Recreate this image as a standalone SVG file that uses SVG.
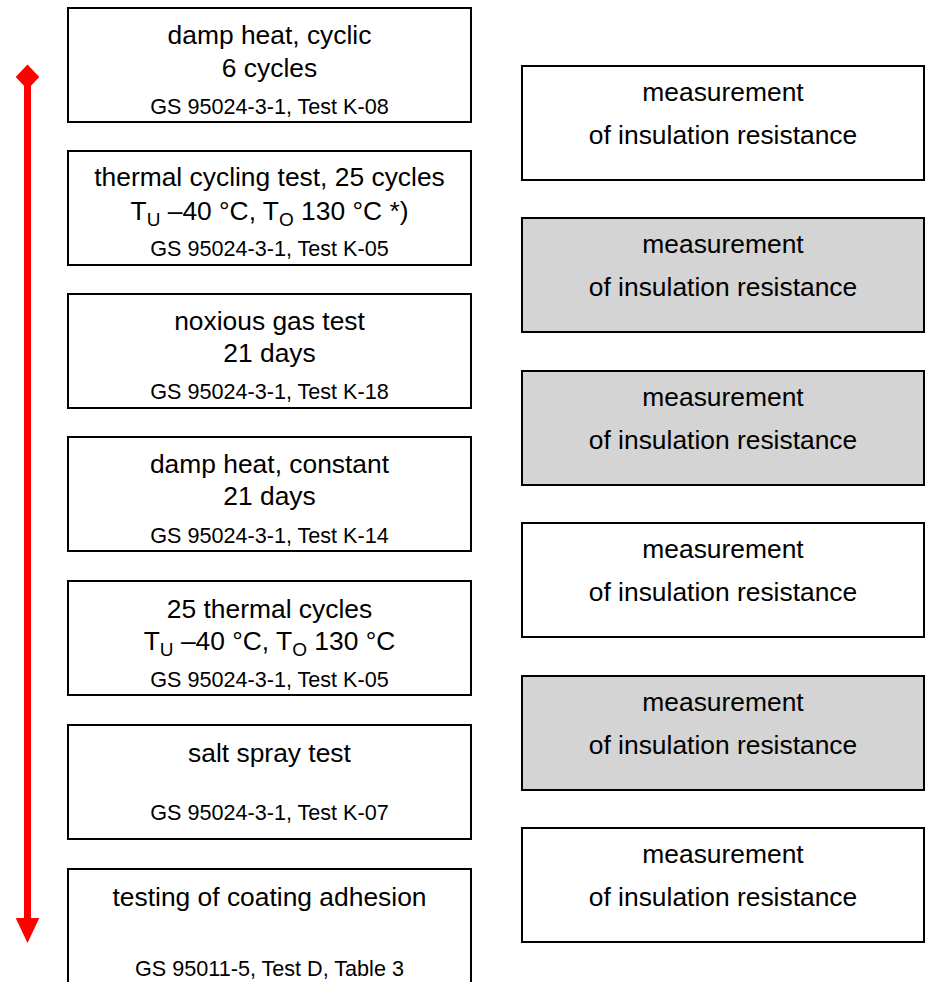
<svg xmlns="http://www.w3.org/2000/svg" width="926" height="982" viewBox="0 0 926 982">
  <style>
    .box { fill: #ffffff; stroke: #000000; stroke-width: 2; }
    .box.grey { fill: #d4d4d4; }
    text { font-family: "Liberation Sans", Arial, sans-serif; fill: #000000; text-anchor: middle; }
    .t { font-size: 26.4px; }
    .s { font-size: 21.6px; }
    .sub { font-size: 19px; }
    .flow { fill: none; stroke: #ff0000; stroke-width: 7; }
  </style>
  <defs>
    <marker id="diamond" markerUnits="userSpaceOnUse" viewBox="-13 -13 26 26" refX="0" refY="0" markerWidth="26" markerHeight="26" orient="auto" overflow="visible">
      <polygon points="-12.5,0 0,-11.8 12.5,0 0,11.8" fill="#ff0000"/>
    </marker>
    <marker id="head" markerUnits="userSpaceOnUse" viewBox="0 -13 26 26" refX="0" refY="0" markerWidth="26" markerHeight="26" orient="auto" overflow="visible">
      <polygon points="0,-11.8 25,0 0,11.8" fill="#ff0000"/>
    </marker>
  </defs>

  <!-- sequence arrow -->
  <g id="connectors">
    <path class="flow" d="M27.5 77 V918" marker-start="url(#diamond)" marker-end="url(#head)"/>
  </g>

  <!-- test steps -->
  <g id="step1">
    <rect class="box" x="68" y="8" width="403" height="114"/>
    <text class="t" x="269.5" y="44">damp heat, cyclic</text>
    <text class="t" x="269.5" y="77">6 cycles</text>
    <text class="s" x="269.5" y="114">GS 95024-3-1, Test K-08</text>
  </g>
  <g id="step2">
    <rect class="box" x="68" y="151" width="403" height="114"/>
    <text class="t" x="269.5" y="186">thermal cycling test, 25 cycles</text>
    <text class="t" x="269.5" y="220">T<tspan class="sub" dy="6">U</tspan><tspan dy="-6"> –40 °C, T</tspan><tspan class="sub" dy="6">O</tspan><tspan dy="-6"> 130 °C *)</tspan></text>
    <text class="s" x="269.5" y="256">GS 95024-3-1, Test K-05</text>
  </g>
  <g id="step3">
    <rect class="box" x="68" y="294" width="403" height="114"/>
    <text class="t" x="269.5" y="330">noxious gas test</text>
    <text class="t" x="269.5" y="362">21 days</text>
    <text class="s" x="269.5" y="399">GS 95024-3-1, Test K-18</text>
  </g>
  <g id="step4">
    <rect class="box" x="68" y="437" width="403" height="114"/>
    <text class="t" x="269.5" y="473">damp heat, constant</text>
    <text class="t" x="269.5" y="505">21 days</text>
    <text class="s" x="269.5" y="543">GS 95024-3-1, Test K-14</text>
  </g>
  <g id="step5">
    <rect class="box" x="68" y="581" width="403" height="114"/>
    <text class="t" x="269.5" y="618">25 thermal cycles</text>
    <text class="t" x="269.5" y="650">T<tspan class="sub" dy="6">U</tspan><tspan dy="-6"> –40 °C, T</tspan><tspan class="sub" dy="6">O</tspan><tspan dy="-6"> 130 °C</tspan></text>
    <text class="s" x="269.5" y="687">GS 95024-3-1, Test K-05</text>
  </g>
  <g id="step6">
    <rect class="box" x="68" y="725" width="403" height="114"/>
    <text class="t" x="269.5" y="762">salt spray test</text>
    <text class="s" x="269.5" y="820">GS 95024-3-1, Test K-07</text>
  </g>
  <g id="step7">
    <rect class="box" x="68" y="869" width="403" height="130"/>
    <text class="t" x="269.5" y="906">testing of coating adhesion</text>
    <text class="s" x="269.5" y="976">GS 95011-5, Test D, Table 3</text>
  </g>

  <!-- insulation resistance measurements -->
  <g id="measure1">
    <rect class="box" x="522" y="66" width="402" height="114"/>
    <text class="t" x="723" y="101">measurement</text>
    <text class="t" x="723" y="144">of insulation resistance</text>
  </g>
  <g id="measure2">
    <rect class="box grey" x="522" y="218" width="402" height="114"/>
    <text class="t" x="723" y="253">measurement</text>
    <text class="t" x="723" y="296">of insulation resistance</text>
  </g>
  <g id="measure3">
    <rect class="box grey" x="522" y="371" width="402" height="114"/>
    <text class="t" x="723" y="406">measurement</text>
    <text class="t" x="723" y="449">of insulation resistance</text>
  </g>
  <g id="measure4">
    <rect class="box" x="522" y="523" width="402" height="114"/>
    <text class="t" x="723" y="558">measurement</text>
    <text class="t" x="723" y="601">of insulation resistance</text>
  </g>
  <g id="measure5">
    <rect class="box grey" x="522" y="676" width="402" height="114"/>
    <text class="t" x="723" y="711">measurement</text>
    <text class="t" x="723" y="754">of insulation resistance</text>
  </g>
  <g id="measure6">
    <rect class="box" x="522" y="828" width="402" height="114"/>
    <text class="t" x="723" y="863">measurement</text>
    <text class="t" x="723" y="906">of insulation resistance</text>
  </g>
</svg>
